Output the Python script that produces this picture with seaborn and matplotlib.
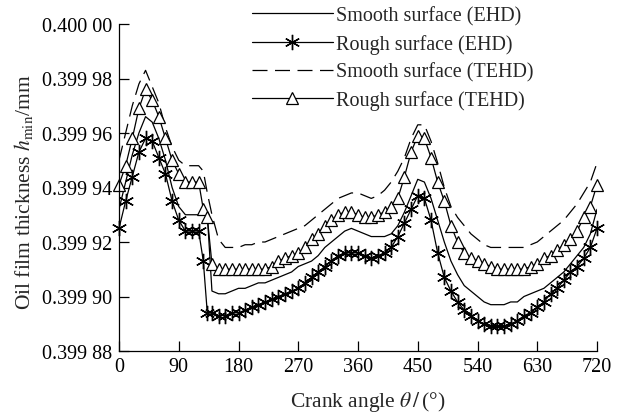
import matplotlib
matplotlib.use("Agg")
import matplotlib.pyplot as plt
import seaborn as sns
import pandas as pd

# ---------------- data ----------------
theta = [0, 10, 20, 30, 40, 50, 60, 70, 80, 90, 100, 110, 120, 127, 133,
         140, 150, 160, 170, 180, 190, 200, 210, 220, 230, 240, 250, 260, 270,
         280, 290, 300, 310, 320, 330, 340, 350, 360, 370, 380, 390, 400, 410,
         420, 430, 440, 450, 460, 470, 480, 490, 500, 510, 520, 530, 540, 550,
         560, 570, 580, 590, 600, 610, 620, 630, 640, 650, 660, 670, 680, 690,
         700, 710, 720]

smooth_ehd = [0.399932, 0.399942, 0.399952, 0.399960, 0.399966, 0.399964, 0.399958,
              0.399950, 0.399940, 0.399933, 0.399930, 0.399930, 0.399930, 0.399930,
              0.399930, 0.399902, 0.399901, 0.399901, 0.399902, 0.399903, 0.399903,
              0.399904, 0.399905, 0.399905, 0.399906, 0.399907, 0.399908, 0.399909,
              0.399911, 0.399912, 0.399913, 0.399915, 0.399918, 0.399920, 0.399922,
              0.399924, 0.399925, 0.399924, 0.399923, 0.399922, 0.399922, 0.399922,
              0.399923, 0.399926, 0.399931, 0.399937, 0.399943, 0.399942, 0.399936,
              0.399928, 0.399920, 0.399913, 0.399908, 0.399904, 0.399902, 0.399900,
              0.399898, 0.399897, 0.399897, 0.399897, 0.399898, 0.399898, 0.399900,
              0.399901, 0.399902, 0.399903, 0.399905, 0.399907, 0.399909, 0.399912,
              0.399915, 0.399918, 0.399923, 0.399932]

rough_ehd = [0.399925, 0.399935, 0.399944, 0.399953, 0.399958, 0.399957, 0.399951,
             0.399945, 0.399935, 0.399928, 0.399924, 0.399924, 0.399924, 0.399913,
             0.399894, 0.399894, 0.399893, 0.399893, 0.399894, 0.399894, 0.399895,
             0.399896, 0.399897, 0.399898, 0.399899, 0.399900, 0.399901, 0.399902,
             0.399903, 0.399905, 0.399907, 0.399909, 0.399911, 0.399913, 0.399915,
             0.399916, 0.399916, 0.399916, 0.399915, 0.399914, 0.399915, 0.399916,
             0.399918, 0.399922, 0.399927, 0.399932, 0.399937, 0.399936, 0.399928,
             0.399916, 0.399907, 0.399902, 0.399898, 0.399895, 0.399893, 0.399891,
             0.399890, 0.399889, 0.399889, 0.399889, 0.399890, 0.399891, 0.399893,
             0.399894, 0.399896, 0.399898, 0.399901, 0.399903, 0.399906, 0.399909,
             0.399911, 0.399914, 0.399918, 0.399925]

smooth_tehd = [0.399950, 0.399960, 0.399970, 0.399978, 0.399983, 0.399977, 0.399971,
               0.399962, 0.399955, 0.399950, 0.399948, 0.399948, 0.399948, 0.399946,
               0.399938, 0.399930, 0.399921, 0.399918, 0.399918, 0.399918, 0.399919,
               0.399919, 0.399920, 0.399920, 0.399921, 0.399922, 0.399923, 0.399924,
               0.399925, 0.399926, 0.399928, 0.399930, 0.399932, 0.399934, 0.399936,
               0.399937, 0.399938, 0.399938, 0.399937, 0.399936, 0.399937, 0.399939,
               0.399942, 0.399946, 0.399951, 0.399958, 0.399963, 0.399963, 0.399957,
               0.399949, 0.399940, 0.399933, 0.399929, 0.399926, 0.399923, 0.399921,
               0.399919, 0.399918, 0.399918, 0.399918, 0.399918, 0.399918, 0.399918,
               0.399919, 0.399920, 0.399922, 0.399924, 0.399926, 0.399928, 0.399931,
               0.399934, 0.399938, 0.399942, 0.399949]

rough_tehd = [0.399941, 0.399948, 0.399958, 0.399969, 0.399976, 0.399972, 0.399966,
              0.399958, 0.399950, 0.399945, 0.399942, 0.399942, 0.399942, 0.399932,
              0.399929, 0.399912, 0.399910, 0.399910, 0.399910, 0.399910, 0.399910,
              0.399910, 0.399910, 0.399910, 0.399911, 0.399913, 0.399914, 0.399915,
              0.399916, 0.399918, 0.399921, 0.399923, 0.399926, 0.399928, 0.399930,
              0.399931, 0.399931, 0.399930, 0.399929, 0.399929, 0.399930, 0.399931,
              0.399933, 0.399936, 0.399944, 0.399953, 0.399959, 0.399958, 0.399951,
              0.399942, 0.399935, 0.399926, 0.399920, 0.399916, 0.399914, 0.399913,
              0.399912, 0.399911, 0.399910, 0.399910, 0.399910, 0.399910, 0.399910,
              0.399911, 0.399912, 0.399914, 0.399915, 0.399917, 0.399919, 0.399921,
              0.399924, 0.399929, 0.399933, 0.399941]

series_labels = ["Smooth surface (EHD)", "Rough surface (EHD)",
                 "Smooth surface (TEHD)", "Rough surface (TEHD)"]

xticks = [0, 90, 180, 270, 360, 450, 540, 630, 720]
yticks = [0.39988, 0.39990, 0.39992, 0.39994, 0.39996, 0.39998, 0.40000]
ytick_labels = ["0.399 88", "0.399 90", "0.399 92", "0.399 94",
                "0.399 96", "0.399 98", "0.400 00"]

# ---------------- style ----------------
sns.set_theme(style="ticks")
plt.rcParams["font.family"] = ["Liberation Serif", "DejaVu Serif"]
plt.rcParams["mathtext.fontset"] = "stix"

df = pd.DataFrame({
    "theta": theta,
    series_labels[0]: smooth_ehd,
    series_labels[1]: rough_ehd,
    series_labels[2]: smooth_tehd,
    series_labels[3]: rough_tehd,
})

fig = plt.figure(figsize=(6.3, 4.14), dpi=100)
ax = fig.add_axes([119 / 630, 1 - 352 / 414, (597 - 119) / 630, (352 - 25) / 414])

common = dict(color="black", linewidth=0.9, ax=ax, estimator=None, sort=False)

sns.lineplot(data=df, x="theta", y=series_labels[0], label=series_labels[0], **common)
sns.lineplot(data=df, x="theta", y=series_labels[1], label=series_labels[1],
             marker=(6, 2, 0), markersize=11, markeredgewidth=1.0,
             markeredgecolor="black", markerfacecolor="black", clip_on=False, **common)
sns.lineplot(data=df, x="theta", y=series_labels[2], label=series_labels[2],
             linestyle=(0, (12, 6)), **common)
sns.lineplot(data=df, x="theta", y=series_labels[3], label=series_labels[3],
             marker="^", markersize=8.5, markeredgewidth=0.9,
             markeredgecolor="black", markerfacecolor="white", clip_on=False, **common)

ax.set_xlim(0, 720)
ax.set_ylim(0.39988, 0.40000)
ax.set_xticks(xticks)
ax.set_xticklabels([str(t) for t in xticks])
ax.set_yticks(yticks)
ax.set_yticklabels(ytick_labels)
ax.tick_params(direction="in", length=7, width=0.9, labelsize=14.5, colors="black")
ax.tick_params(axis="y", pad=5)
ax.tick_params(axis="x", pad=4)

for s in ["top", "right"]:
    ax.spines[s].set_visible(False)
for s in ["left", "bottom"]:
    ax.spines[s].set_linewidth(0.9)
    ax.spines[s].set_color("black")

ax.set_xlabel(r"Crank angle $\theta\,/\,$(°)", fontsize=15.5)
ax.set_ylabel(r"Oil film thickness $h_{\rm min}$/mm", fontsize=15.5)
ax.xaxis.set_label_coords(0.52, -0.115)
ax.yaxis.set_label_coords(-0.175, 0.49)

leg = ax.legend(loc="upper left", bbox_to_anchor=(252 / 630, 1 - 7 / 414),
                bbox_transform=fig.transFigure, frameon=False, fontsize=14.5,
                handlelength=4.0, handletextpad=0.15, labelspacing=0.42,
                borderpad=0, borderaxespad=0, numpoints=1)

fig.savefig("out.png", dpi=100)
